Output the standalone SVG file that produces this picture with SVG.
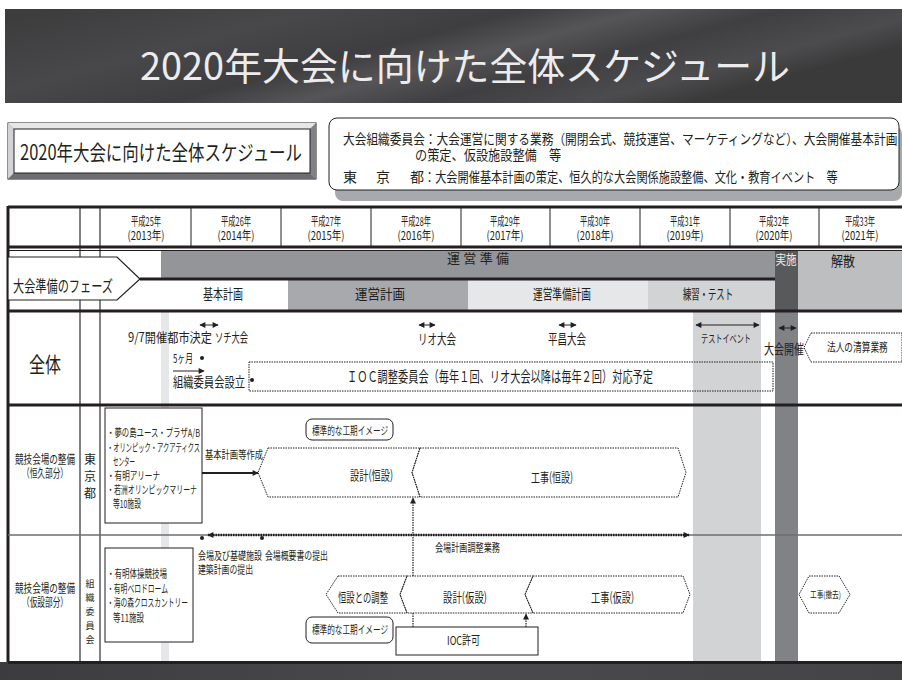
<svg xmlns="http://www.w3.org/2000/svg" width="902" height="680" viewBox="0 0 902 680">
<defs>
<style>
.t{font-family:"Noto Sans CJK JP","Noto Sans CJK SC",sans-serif;fill:#231f20}
.w{fill:#ececec}
.m{text-anchor:middle}
.v{writing-mode:vertical-rl}
.dot{fill:none;stroke:#231f20;stroke-width:1;stroke-dasharray:1.5,1}
.thick{stroke:#231f20;stroke-width:3}
.vl{stroke:#58595b;stroke-width:1.5}
.ln{stroke:#231f20;stroke-width:1}
</style>
<linearGradient id="ban" x1="0" y1="0" x2="1" y2="0.4">
<stop offset="0" stop-color="#3b3b3c"/>
<stop offset="0.3" stop-color="#48484a"/>
<stop offset="0.5" stop-color="#3e3e40"/>
<stop offset="0.62" stop-color="#555557"/>
<stop offset="0.75" stop-color="#3f3f41"/>
<stop offset="0.9" stop-color="#4c4c4e"/>
<stop offset="1" stop-color="#3a3a3b"/>
</linearGradient>
<linearGradient id="bot" x1="0" y1="0" x2="1" y2="0">
<stop offset="0" stop-color="#3c3c3e"/>
<stop offset="0.5" stop-color="#4a4a4c"/>
<stop offset="1" stop-color="#444446"/>
</linearGradient>
<marker id="ah" viewBox="0 0 10 10" refX="9" refY="5" markerWidth="7" markerHeight="6" orient="auto-start-reverse" markerUnits="userSpaceOnUse">
<path d="M0,0 L10,5 L0,10 Z" fill="#231f20"/>
</marker>
</defs>

<g id="banner">
<rect x="5" y="9" width="897" height="94" fill="url(#ban)"/>
<text class="t w" x="140" y="80" font-size="38" textLength="650" lengthAdjust="spacingAndGlyphs">2020年大会に向けた全体スケジュール</text>
</g>

<g id="subtitle">
<rect x="8" y="123" width="308" height="56" fill="#a7a9ac" stroke="#231f20" stroke-width="1"/>
<polygon points="8,123 316,123 310,129 14,129" fill="#e6e7e8"/>
<polygon points="8,123 14,129 14,173 8,179" fill="#d1d3d4"/>
<polygon points="8,179 316,179 310,173 14,173" fill="#6d6e71"/>
<polygon points="316,123 316,179 310,173 310,129" fill="#808285"/>
<rect x="14" y="129" width="296" height="44" fill="#fff" stroke="#231f20" stroke-width="1"/>
<text class="t" x="20" y="160" font-size="21" textLength="282" lengthAdjust="spacingAndGlyphs">2020年大会に向けた全体スケジュール</text>
</g>

<g id="legend">
<rect x="335" y="126" width="567" height="75" rx="8" fill="#a7a9ac"/>
<rect x="329" y="118" width="570" height="72" rx="8" fill="#fff" stroke="#231f20" stroke-width="1"/>
<text class="t" transform="translate(343,144) scale(0.82,1)" font-size="14" textLength="676" lengthAdjust="spacingAndGlyphs">大会組織委員会：大会運営に関する業務（開閉会式、競技運営、マーケティングなど）、大会開催基本計画</text>
<text class="t" transform="translate(415,160) scale(0.87,1)" font-size="14" textLength="168" lengthAdjust="spacingAndGlyphs">の策定、仮設施設整備　等</text>
<text class="t" x="343" y="182" font-size="14">東</text>
<text class="t" x="376" y="182" font-size="14">京</text>
<text class="t" x="410" y="182" font-size="14">都</text>
<text class="t" transform="translate(424,182) scale(0.8,1)" font-size="14" textLength="517" lengthAdjust="spacingAndGlyphs">：大会開催基本計画の策定、恒久的な大会関係施設整備、文化・教育イベント　等</text>
</g>

<g id="bands">
<rect x="161" y="250" width="614" height="29" fill="#939598"/>
<rect x="288" y="280" width="180" height="31" fill="#a7a9ac"/>
<rect x="468" y="280" width="180" height="31" fill="#e6e7e8"/>
<rect x="648" y="280" width="127" height="31" fill="#d1d3d4"/>
<rect x="775" y="250" width="23" height="61" fill="#58595b"/>
<rect x="798" y="250" width="104" height="61" fill="#bcbec0"/>
<rect x="161" y="311" width="8" height="351" fill="#e6e7e8"/>
<rect x="693" y="311" width="68" height="351" fill="#d1d3d4"/>
<rect x="775" y="311" width="23" height="351" fill="#808285"/>
</g>

<g id="grid">
<line class="vl" x1="80" y1="207" x2="80" y2="662"/>
<line class="vl" x1="100" y1="207" x2="100" y2="662"/>
<line class="ln" x1="191" y1="207" x2="191" y2="247"/>
<line class="ln" x1="281" y1="207" x2="281" y2="247"/>
<line class="ln" x1="371" y1="207" x2="371" y2="247"/>
<line class="ln" x1="461" y1="207" x2="461" y2="247"/>
<line class="ln" x1="550" y1="207" x2="550" y2="247"/>
<line class="ln" x1="640" y1="207" x2="640" y2="247"/>
<line class="ln" x1="730" y1="207" x2="730" y2="247"/>
<line class="ln" x1="819" y1="207" x2="819" y2="247"/>
<line class="thick" x1="8" y1="207" x2="902" y2="207"/>
<line class="thick" x1="8" y1="206" x2="8" y2="662"/>
<line class="thick" x1="8" y1="247" x2="902" y2="247"/>
<line class="ln" x1="8" y1="250.5" x2="902" y2="250.5"/>
<line class="thick" x1="140" y1="279" x2="775" y2="279"/>
<line class="thick" x1="8" y1="311" x2="902" y2="311"/>
<line class="thick" x1="8" y1="405" x2="902" y2="405"/>
<line x1="8" y1="535" x2="902" y2="535" stroke="#6d6e71" stroke-width="1.5"/>
<rect x="0" y="662" width="902" height="18" fill="url(#bot)"/>
<line x1="8" y1="662.5" x2="902" y2="662.5" stroke="#231f20" stroke-width="3"/>
</g>

<g id="years">
<text class="t m" x="146" y="226" font-size="12" textLength="30" lengthAdjust="spacingAndGlyphs">平成25年</text>
<text class="t m" x="146" y="240" font-size="12" textLength="37" lengthAdjust="spacingAndGlyphs">(2013年)</text>
<text class="t m" x="236" y="226" font-size="12" textLength="30" lengthAdjust="spacingAndGlyphs">平成26年</text>
<text class="t m" x="236" y="240" font-size="12" textLength="37" lengthAdjust="spacingAndGlyphs">(2014年)</text>
<text class="t m" x="326" y="226" font-size="12" textLength="30" lengthAdjust="spacingAndGlyphs">平成27年</text>
<text class="t m" x="326" y="240" font-size="12" textLength="37" lengthAdjust="spacingAndGlyphs">(2015年)</text>
<text class="t m" x="416" y="226" font-size="12" textLength="30" lengthAdjust="spacingAndGlyphs">平成28年</text>
<text class="t m" x="416" y="240" font-size="12" textLength="37" lengthAdjust="spacingAndGlyphs">(2016年)</text>
<text class="t m" x="505" y="226" font-size="12" textLength="30" lengthAdjust="spacingAndGlyphs">平成29年</text>
<text class="t m" x="505" y="240" font-size="12" textLength="37" lengthAdjust="spacingAndGlyphs">(2017年)</text>
<text class="t m" x="595" y="226" font-size="12" textLength="30" lengthAdjust="spacingAndGlyphs">平成30年</text>
<text class="t m" x="595" y="240" font-size="12" textLength="37" lengthAdjust="spacingAndGlyphs">(2018年)</text>
<text class="t m" x="685" y="226" font-size="12" textLength="30" lengthAdjust="spacingAndGlyphs">平成31年</text>
<text class="t m" x="685" y="240" font-size="12" textLength="37" lengthAdjust="spacingAndGlyphs">(2019年)</text>
<text class="t m" x="774" y="226" font-size="12" textLength="30" lengthAdjust="spacingAndGlyphs">平成32年</text>
<text class="t m" x="774" y="240" font-size="12" textLength="37" lengthAdjust="spacingAndGlyphs">(2020年)</text>
<text class="t m" x="860" y="226" font-size="12" textLength="30" lengthAdjust="spacingAndGlyphs">平成33年</text>
<text class="t m" x="860" y="240" font-size="12" textLength="37" lengthAdjust="spacingAndGlyphs">(2021年)</text>
</g>

<g id="phase-label">
<polygon points="8,257 117,257 140,279 117,300 8,300" fill="#fff" stroke="#231f20" stroke-width="1.2"/>
<text class="t" x="13" y="292" font-size="16" textLength="100" lengthAdjust="spacingAndGlyphs">大会準備のフェーズ</text>
</g>
<g id="phase-unei-junbi">
<text class="t" x="447" y="263" font-size="13" textLength="62" lengthAdjust="spacing">運営準備</text>
</g>
<g id="phase-kihon"><text class="t m" x="223" y="299" font-size="14" textLength="40" lengthAdjust="spacingAndGlyphs">基本計画</text></g>
<g id="phase-unei"><text class="t m" x="380" y="299" font-size="14" textLength="50" lengthAdjust="spacingAndGlyphs">運営計画</text></g>
<g id="phase-unei-junbi-keikaku"><text class="t m" x="562" y="299" font-size="14" textLength="58" lengthAdjust="spacingAndGlyphs">運営準備計画</text></g>
<g id="phase-renshu"><text class="t m" x="708" y="299" font-size="14" textLength="50" lengthAdjust="spacingAndGlyphs">練習・テスト</text></g>
<g id="phase-jisshi"><text class="t w m" x="786" y="264" font-size="13" textLength="21" lengthAdjust="spacingAndGlyphs">実施</text></g>
<g id="phase-kaisan"><text class="t m" x="843" y="266" font-size="14" textLength="24" lengthAdjust="spacingAndGlyphs">解散</text></g>

<g id="zentai-label"><text class="t m" x="45" y="372" font-size="21" textLength="32" lengthAdjust="spacingAndGlyphs">全体</text></g>
<g id="kaisai-toshi"><text class="t" x="128" y="342" font-size="13" textLength="84" lengthAdjust="spacingAndGlyphs">9/7開催都市決定</text></g>
<g id="sochi"><text class="t" x="215" y="342" font-size="13" textLength="33" lengthAdjust="spacingAndGlyphs">ソチ大会</text></g>
<g id="rio"><text class="t" x="418" y="344" font-size="14" textLength="38" lengthAdjust="spacingAndGlyphs">リオ大会</text></g>
<g id="pyeongchang"><text class="t" x="548" y="344" font-size="14" textLength="38" lengthAdjust="spacingAndGlyphs">平昌大会</text></g>
<g id="test-event"><text class="t" x="701" y="343" font-size="11" textLength="50" lengthAdjust="spacingAndGlyphs">テストイベント</text></g>
<g id="taikai-kaisai"><text class="t" x="764" y="354" font-size="14" textLength="40" lengthAdjust="spacingAndGlyphs">大会開催</text></g>
<g id="seisan">
<polygon class="dot" points="811,333 902,333 902,362 811,362 804,347.5" fill="#fff"/>
<text class="t" transform="translate(827,352) scale(0.75,1)" font-size="12" textLength="81" lengthAdjust="spacingAndGlyphs">法人の清算業務</text>
</g>
<g id="soshiki-setsuritsu">
<text class="t" x="173" y="363" font-size="12" textLength="20" lengthAdjust="spacingAndGlyphs">5ヶ月</text>
<circle cx="202" cy="358" r="2" fill="#231f20"/>
<text class="t" x="173" y="387" font-size="14" textLength="72" lengthAdjust="spacingAndGlyphs">組織委員会設立</text>
<circle cx="252" cy="380" r="2" fill="#231f20"/>
</g>
<g id="ioc-chosei">
<rect class="dot" x="249" y="362" width="524" height="29"/>
<text class="t" x="347" y="382" font-size="15" textLength="306" lengthAdjust="spacingAndGlyphs">ＩＯＣ調整委員会（毎年１回、リオ大会以降は毎年２回）対応予定</text>
</g>

<g id="kokyu-label">
<text class="t m" x="45" y="464" font-size="12" textLength="60" lengthAdjust="spacingAndGlyphs">競技会場の整備</text>
<text class="t m" x="45" y="478" font-size="12" textLength="46" lengthAdjust="spacingAndGlyphs">（恒久部分）</text>
</g>
<g id="tokyo-to">
<text class="t v" x="90" y="453" font-size="12" letter-spacing="5">東京都</text>
</g>
<g id="kokyu-facilities">
<rect x="105" y="408" width="97" height="115" fill="#fff" stroke="#231f20" stroke-width="1"/>
<text class="t" x="107" y="437" font-size="11" textLength="93" lengthAdjust="spacingAndGlyphs">・夢の島ユース・プラザA/B</text>
<text class="t" x="107" y="452" font-size="11" textLength="93" lengthAdjust="spacingAndGlyphs">・オリンピック・アクアティクス</text>
<text class="t" x="113" y="466" font-size="11" textLength="22" lengthAdjust="spacingAndGlyphs">センター</text>
<text class="t" x="107" y="480" font-size="11" textLength="53" lengthAdjust="spacingAndGlyphs">・有明アリーナ</text>
<text class="t" x="107" y="494" font-size="11" textLength="90" lengthAdjust="spacingAndGlyphs">・若洲オリンピックマリーナ</text>
<text class="t" x="113" y="508" font-size="11" textLength="28" lengthAdjust="spacingAndGlyphs">等10施設</text>
</g>
<g id="kihon-sakusei"><text class="t" x="205" y="459" font-size="11" textLength="58" lengthAdjust="spacingAndGlyphs">基本計画等作成</text></g>
<g id="image-label-1">
<rect x="306" y="419" width="87" height="21" rx="6" fill="#fff" stroke="#231f20" stroke-width="1"/>
<text class="t" x="312" y="435" font-size="11" textLength="76" lengthAdjust="spacingAndGlyphs">標準的な工期イメージ</text>
</g>
<g id="sekkei-kosetsu">
<polygon class="dot" points="268,448 420,448 412,472.5 420,497 268,497 258,472.5" fill="#fff"/>
<text class="t" x="350" y="480" font-size="13" textLength="43" lengthAdjust="spacingAndGlyphs">設計(恒設)</text>
</g>
<g id="koji-kosetsu">
<polygon class="dot" points="420,448 678,448 686,472.5 678,497 420,497 412,472.5" fill="#e6e7e8"/>
<text class="t" x="531" y="482" font-size="13" textLength="42" lengthAdjust="spacingAndGlyphs">工事(恒設)</text>
</g>

<g id="kasetsu-label">
<text class="t m" x="45" y="593" font-size="12" textLength="60" lengthAdjust="spacingAndGlyphs">競技会場の整備</text>
<text class="t m" x="45" y="607" font-size="12" textLength="46" lengthAdjust="spacingAndGlyphs">（仮設部分）</text>
</g>
<g id="soshiki-iinkai">
<text class="t v" x="90" y="579" font-size="9" letter-spacing="5">組織委員会</text>
</g>
<g id="kasetsu-facilities">
<rect x="105" y="548" width="88" height="94" fill="#fff" stroke="#231f20" stroke-width="1"/>
<text class="t" x="107" y="578" font-size="11" textLength="60" lengthAdjust="spacingAndGlyphs">・有明体操競技場</text>
<text class="t" x="107" y="593" font-size="11" textLength="61" lengthAdjust="spacingAndGlyphs">・有明ベロドローム</text>
<text class="t" x="107" y="607" font-size="11" textLength="81" lengthAdjust="spacingAndGlyphs">・海の森クロスカントリー</text>
<text class="t" x="113" y="622" font-size="11" textLength="31" lengthAdjust="spacingAndGlyphs">等11施設</text>
</g>
<g id="kiso-shisetsu">
<circle cx="202" cy="538" r="2" fill="#231f20"/>
<text class="t" x="198" y="560" font-size="11" textLength="64" lengthAdjust="spacingAndGlyphs">会場及び基礎施設</text>
<text class="t" x="198" y="574" font-size="11" textLength="55" lengthAdjust="spacingAndGlyphs">建築計画の提出</text>
</g>
<g id="gaiyosho">
<circle cx="262" cy="538" r="2" fill="#231f20"/>
<text class="t" x="265" y="560" font-size="11" textLength="63" lengthAdjust="spacingAndGlyphs">会場概要書の提出</text>
</g>
<g id="chosei-gyomu"><text class="t" x="435" y="552" font-size="11" textLength="65" lengthAdjust="spacingAndGlyphs">会場計画調整業務</text></g>
<g id="kosetsu-chosei">
<polygon class="dot" points="338,576 407,576 400,594.5 407,613 338,613 326,594.5" fill="#fff"/>
<text class="t" x="338" y="602" font-size="13" textLength="50" lengthAdjust="spacingAndGlyphs">恒設との調整</text>
</g>
<g id="sekkei-kasetsu">
<polygon class="dot" points="407,576 533,576 525,594.5 533,613 407,613 400,594.5" fill="#fff"/>
<text class="t" x="443" y="602" font-size="13" textLength="44" lengthAdjust="spacingAndGlyphs">設計(仮設)</text>
</g>
<g id="koji-kasetsu">
<polygon class="dot" points="533,576 683,576 690,594.5 683,613 533,613 525,594.5" fill="#e6e7e8"/>
<text class="t" x="591" y="602" font-size="13" textLength="43" lengthAdjust="spacingAndGlyphs">工事(仮設)</text>
</g>
<g id="koji-tekkyo">
<polygon class="dot" points="809,576 839,576 850,594.5 839,613 809,613 799,594.5" fill="#e6e7e8"/>
<text class="t" x="810" y="598" font-size="9" textLength="31" lengthAdjust="spacingAndGlyphs">工事(撤去)</text>
</g>
<g id="image-label-2">
<rect x="306" y="617" width="87" height="26" rx="6" fill="#fff" stroke="#231f20" stroke-width="1"/>
<text class="t" x="312" y="634" font-size="11" textLength="76" lengthAdjust="spacingAndGlyphs">標準的な工期イメージ</text>
</g>
<g id="ioc-kyoka">
<rect x="396" y="627" width="142" height="28" fill="#fff" stroke="#231f20" stroke-width="1"/>
<text class="t" x="447" y="645" font-size="12" textLength="33" lengthAdjust="spacingAndGlyphs">IOC許可</text>
</g>

<g id="connectors" fill="none">
<line x1="200" y1="325" x2="218" y2="325" stroke="#231f20" stroke-width="1" marker-start="url(#ah)" marker-end="url(#ah)"/>
<line x1="419" y1="325" x2="435" y2="325" stroke="#231f20" stroke-width="1" marker-start="url(#ah)" marker-end="url(#ah)"/>
<line x1="559" y1="325" x2="576" y2="325" stroke="#231f20" stroke-width="1" marker-start="url(#ah)" marker-end="url(#ah)"/>
<line x1="696" y1="325" x2="759" y2="325" stroke="#231f20" stroke-width="1" marker-start="url(#ah)" marker-end="url(#ah)"/>
<line x1="779" y1="328" x2="796" y2="328" stroke="#231f20" stroke-width="1" marker-start="url(#ah)" marker-end="url(#ah)"/>
<line x1="173" y1="371" x2="204" y2="371" stroke="#231f20" stroke-width="1" marker-end="url(#ah)"/>
<line x1="202" y1="473" x2="258" y2="473" stroke="#231f20" stroke-width="2" marker-end="url(#ah)"/>
<line x1="208" y1="535" x2="689" y2="535" stroke="#231f20" stroke-width="2.5" stroke-dasharray="1.5,1" marker-start="url(#ah)" marker-end="url(#ah)"/>
<line x1="413" y1="576" x2="413" y2="498" stroke="#231f20" stroke-width="1.2" stroke-dasharray="1.5,1" marker-end="url(#ah)"/>
<line x1="413" y1="613" x2="413" y2="627" stroke="#231f20" stroke-width="1.2" stroke-dasharray="1.5,1"/>
<line x1="526" y1="627" x2="526" y2="614" stroke="#231f20" stroke-width="1.2" stroke-dasharray="1.5,1" marker-end="url(#ah)"/>
</g>
</svg>
